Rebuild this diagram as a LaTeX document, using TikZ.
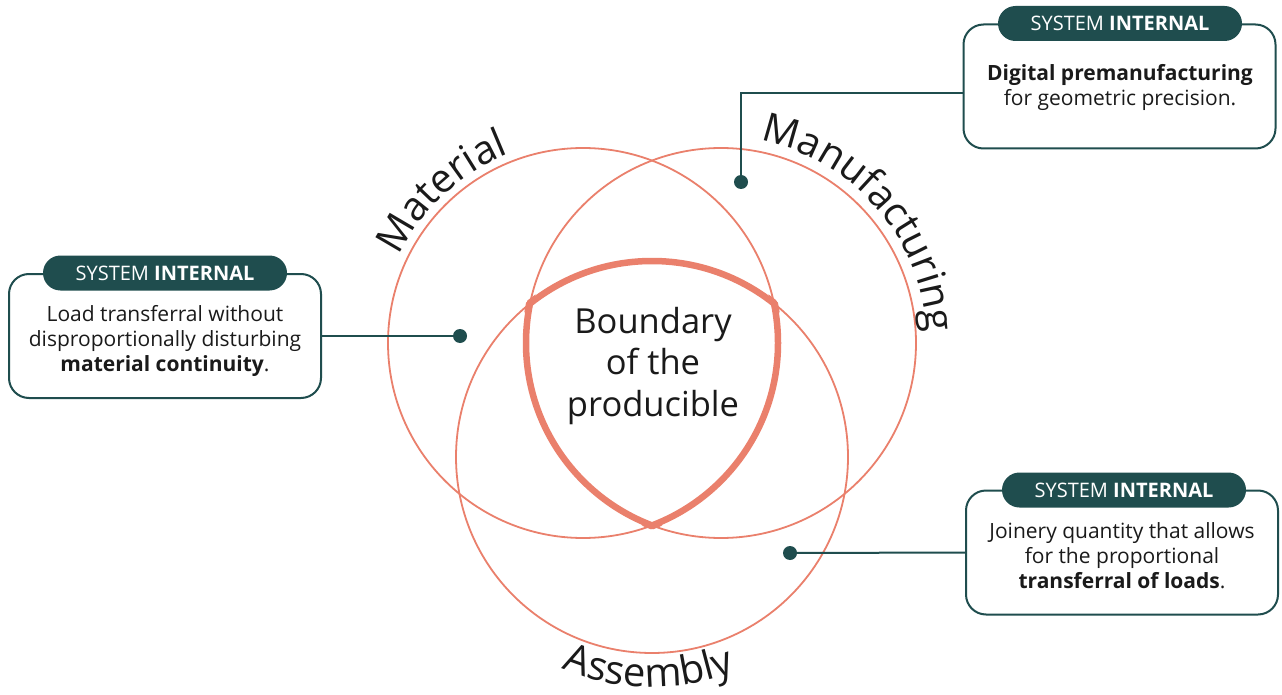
\documentclass[tikz,border=0pt]{standalone}
\usepackage{fontspec}
\setmainfont{Open Sans}
\usetikzlibrary{decorations.text}

\definecolor{coral}{RGB}{234,128,108}
\definecolor{darkteal}{RGB}{31,77,78}
\definecolor{inktext}{RGB}{26,26,26}

\newcommand{\bodyfont}{\fontsize{21}{25}\selectfont}
\newcommand{\tagfont}{\fontsize{20}{24}\selectfont}
\newcommand{\corefont}{\fontsize{34.5}{41.5}\selectfont}
\newcommand{\arcfont}{\fontsize{40}{48}\selectfont}

\begin{document}
\begin{tikzpicture}[x=1pt,y=-1pt,
  ring/.style={draw=coral, line width=1.8pt},
  edge/.style={draw=coral, line width=6.5pt},
  infobox/.style={draw=darkteal, line width=2pt, rounded corners=20pt,
    minimum width=312pt, minimum height=124pt, fill=white, inner sep=0pt},
  tag/.style={fill=darkteal, rounded corners=17.5pt, minimum width=244pt,
    minimum height=35pt, inner sep=0pt, text=white, font=\tagfont},
  leader/.style={draw=darkteal, line width=2pt},
  pin/.style={circle, fill=darkteal, minimum size=14pt, inner sep=0pt},
  bodytext/.style={align=center, font=\bodyfont, text=inktext},
  arclabel/.style={decorate, decoration={text along path, text align=center,
    text={|\arcfont\color{inktext}|#1}}}
]
% canvas
\fill[white] (0,0) rectangle (1282,695);
\useasboundingbox (0,0) rectangle (1282,695);

% circle centres
\coordinate (matc) at (583,343);
\coordinate (manc) at (721,343);
\coordinate (assc) at (652,457);

% the three domains
\draw[ring] (matc) circle[radius=195];
\draw[ring] (manc) circle[radius=195];
\draw[ring] (assc) circle[radius=196];

% common intersection outlined heavily
\begin{scope}
  \clip (matc) circle[radius=199];
  \clip (assc) circle[radius=200];
  \draw[edge] (manc) circle[radius=195];
\end{scope}
\begin{scope}
  \clip (manc) circle[radius=199];
  \clip (assc) circle[radius=200];
  \draw[edge] (matc) circle[radius=195];
\end{scope}
\begin{scope}
  \clip (matc) circle[radius=199];
  \clip (manc) circle[radius=199];
  \draw[edge] (assc) circle[radius=196];
\end{scope}

\node[font=\corefont, align=center, text=inktext] (core) at (653,366)
  {Boundary\\of the\\producible};

% curved domain names
\path[arclabel=Material] (matc) ++(-178:203) arc[start angle=-178, end angle=-88, radius=203];
\path[arclabel=Manufacturing] (manc) ++(-86:206) arc[start angle=-86, end angle=4, radius=206];
\path[arclabel=Assembly] (assc) ++(136:230) arc[start angle=136, end angle=46, radius=230];

% callout boxes
\node[infobox] (lbox) at (165,336) {};
\node[infobox] (tbox) at (1119.5,86.5) {};
\node[infobox] (bbox) at (1122,552.5) {};

\node[tag] (ltag) at (165,273) {SYSTEM \textbf{INTERNAL}};
\node[tag] (ttag) at (1120,23.5) {SYSTEM \textbf{INTERNAL}};
\node[tag] (btag) at (1124,490) {SYSTEM \textbf{INTERNAL}};

\node[bodytext] (ltext) at (165,341)
  {Load transferral without\\disproportionally disturbing\\\textbf{material continuity}.};
\node[bodytext] (ttext) at (1120,87)
  {\textbf{Digital premanufacturing}\\for geometric precision.};
\node[bodytext] (btext) at (1122,556)
  {Joinery quantity that allows\\for the proportional\\\textbf{transferral of loads}.};

% leaders and pins
\node[pin] (ldot) at (460,336) {};
\node[pin] (tdot) at (741,182) {};
\node[pin] (bdot) at (790,553) {};
\coordinate (tbend) at (741,93);

\draw[leader] (lbox.east) -- (ldot.center);
\draw[leader] (tbox.west |- tbend) -- (tbend) -- (tdot.center);
\draw[leader] (bbox.west) -- (bdot.center);
\end{tikzpicture}
\end{document}
